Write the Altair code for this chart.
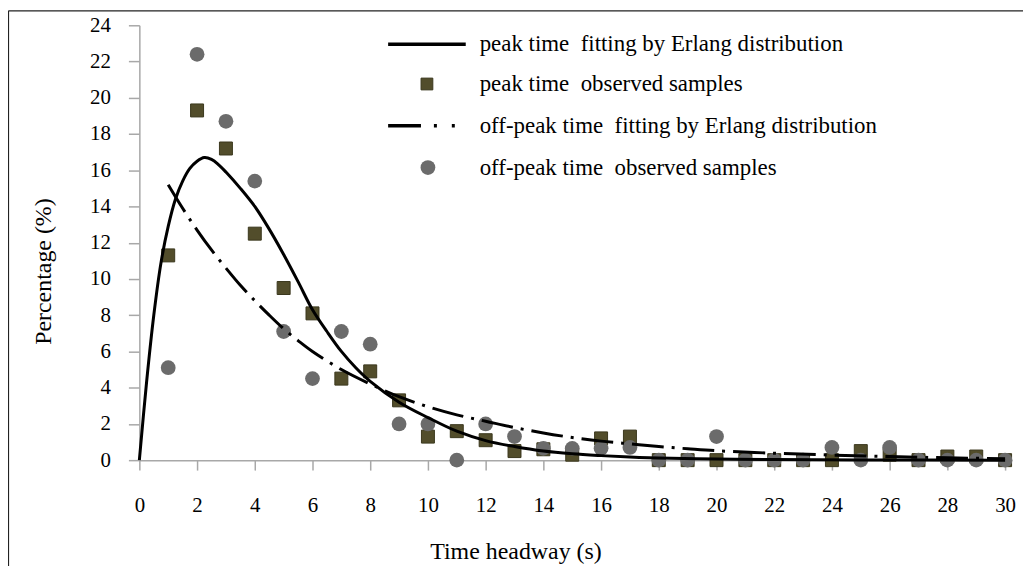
import altair as alt
import pandas as pd

# ---------------- data ----------------
x_ticks = list(range(0, 31, 2))
y_ticks = list(range(0, 25, 2))

t_obs = list(range(1, 31))
peak_obs = [11.3, 19.3, 17.2, 12.5, 9.5, 8.1, 4.5, 4.9, 3.3, 1.3,
            1.6, 1.1, 0.5, 0.6, 0.3, 1.2, 1.3, 0.0, 0.0, 0.0,
            0.0, 0.0, 0.0, 0.0, 0.5, 0.3, 0.0, 0.2, 0.2, 0.0]
offpeak_obs = [5.1, 22.4, 18.7, 15.4, 7.1, 4.5, 7.1, 6.4, 2.0, 2.0,
               0.0, 2.0, 1.3, 0.65, 0.65, 0.65, 0.7, 0.0, 0.0, 1.3,
               0.0, 0.0, 0.0, 0.7, 0.0, 0.7, 0.0, 0.0, 0.0, 0.0]

peak_fit_t = [0, 0.25, 0.5, 0.75, 1, 1.25, 1.5, 1.75, 2, 2.25, 2.5, 2.75, 3,
              3.5, 4, 4.5, 5, 5.5, 6, 6.5, 7, 7.5, 8, 9, 10, 11, 12, 13, 14,
              15, 16, 17, 18, 20, 22, 25, 30]
peak_fit_v = [0, 4.3, 8.0, 10.9, 12.9, 14.4, 15.4, 16.1, 16.5, 16.7, 16.6, 16.3, 15.9,
              15.0, 14.0, 12.75, 11.35, 9.85, 8.3, 7.1, 6.0, 5.1, 4.35, 3.2, 2.35, 1.6, 1.08, 0.75, 0.5,
              0.35, 0.25, 0.17, 0.12, 0.06, 0.03, 0.01, 0.0]

off_fit_t = [1, 1.5, 2, 2.5, 3, 3.5, 4, 4.5, 5, 5.5, 6, 7, 8, 9, 10, 11, 12,
             13, 14, 15, 16, 17, 18, 19, 20, 22, 24, 26, 28, 30]
off_fit_v = [15.2, 13.9, 12.7, 11.6, 10.6, 9.65, 8.8, 8.0, 7.25, 6.6, 6.0, 5.0, 4.2,
             3.5, 2.95, 2.5, 2.15, 1.8, 1.5, 1.25, 1.05, 0.9, 0.75, 0.63, 0.52,
             0.38, 0.28, 0.2, 0.13, 0.08]

legend_labels = [
    "peak time\u00a0 fitting by Erlang distribution",
    "peak time\u00a0 observed samples",
    "off-peak time\u00a0 fitting by Erlang distribution",
    "off-peak time\u00a0 observed samples",
]

FONT = "'Liberation Serif', 'Times New Roman', 'DejaVu Serif', serif"
W, H = 870, 437

df_obs = pd.DataFrame({"t": t_obs, "peak": peak_obs, "off": offpeak_obs})
df_peak_fit = pd.DataFrame({"t": peak_fit_t, "v": peak_fit_v})
df_off_fit = pd.DataFrame({"t": off_fit_t, "v": off_fit_v})
one = pd.DataFrame({"k": [0]})

x_axis = alt.Axis(values=x_ticks, title="Time headway (s)", tickSize=10,
                  labelPadding=25, labelFlush=False, titleX=378, titleY=92,
                  titleBaseline="middle", titleAlign="center")
y_axis = alt.Axis(values=y_ticks, title="Percentage (%)", tickSize=11,
                  labelPadding=18, titleX=-96, titleY=247, titleAngle=270,
                  titleBaseline="middle", titleAlign="center")


def X(field):
    return alt.X(f"{field}:Q", scale=alt.Scale(domain=[0, 30], nice=False), axis=x_axis)


def Y(field):
    return alt.Y(f"{field}:Q", scale=alt.Scale(domain=[0, 24], nice=False), axis=y_axis)


squares = alt.Chart(df_obs).mark_point(
    shape="square", filled=True, fill="#524d2b", stroke="#3a371d",
    strokeWidth=1, size=170, opacity=1
).encode(x=X("t"), y=Y("peak"))

circles = alt.Chart(df_obs).mark_point(
    shape="circle", filled=True, fill="#6b6b6b", size=220, opacity=1
).encode(x=X("t"), y=Y("off"))

off_line = alt.Chart(df_off_fit).mark_line(
    color="black", strokeWidth=3, interpolate="catmull-rom",
    strokeDash=[32, 8, 3, 8]
).encode(x=X("t"), y=Y("v"))

peak_line = alt.Chart(df_peak_fit).mark_line(
    color="black", strokeWidth=3, interpolate="catmull-rom"
).encode(x=X("t"), y=Y("v"))

# ---------------- legend (drawn in pixel space) ----------------
row_y = [19, 59, 101, 143]
leg_line1 = alt.Chart(one).mark_rule(color="black", strokeWidth=3.5).encode(
    x=alt.value(250), x2=alt.value(328), y=alt.value(row_y[0]))
leg_sq = alt.Chart(one).mark_point(
    shape="square", filled=True, fill="#524d2b", stroke="#3a371d",
    strokeWidth=1, size=140, opacity=1
).encode(x=alt.value(289), y=alt.value(row_y[1]))
leg_line2 = alt.Chart(one).mark_rule(
    color="black", strokeWidth=3.5, strokeDash=[33, 13, 3, 15, 3, 40]
).encode(x=alt.value(250), x2=alt.value(320), y=alt.value(row_y[2]))
leg_circ = alt.Chart(one).mark_point(
    shape="circle", filled=True, fill="#6b6b6b", size=220, opacity=1
).encode(x=alt.value(290), y=alt.value(row_y[3]))

leg_texts = [
    alt.Chart(one).mark_text(
        align="left", baseline="middle", font=FONT, fontSize=23, color="black"
    ).encode(x=alt.value(342), y=alt.value(yy), text=alt.value(lbl))
    for yy, lbl in zip(row_y, legend_labels)
]

# ---------------- figure frame (top and left edges) ----------------
frame_top = alt.Chart(one).mark_rule(color="#222222", strokeWidth=1.2).encode(
    x=alt.value(-131.5), x2=alt.value(890), y=alt.value(-14.5))
frame_left = alt.Chart(one).mark_rule(color="#222222", strokeWidth=1.2).encode(
    x=alt.value(-131.5), y=alt.value(-14.5), y2=alt.value(545))

chart = alt.layer(
    squares, circles, off_line, peak_line,
    leg_line1, leg_sq, leg_line2, leg_circ, *leg_texts,
    frame_top, frame_left
).properties(
    width=W, height=H,
    autosize=alt.AutoSizeParams(type="none"),
    padding={"left": 132, "top": 16, "right": 18, "bottom": 105},
).configure_view(
    stroke=None
).configure_axis(
    grid=False,
    domainColor="#a8a8a8", domainWidth=1.5,
    tickColor="#a8a8a8", tickWidth=1.5,
    labelFont=FONT, labelFontSize=21, labelColor="black",
    titleFont=FONT, titleFontSize=24, titleFontWeight="normal", titleColor="black",
)

chart.save("out.html", embed_options={"renderer": "svg", "actions": False})
